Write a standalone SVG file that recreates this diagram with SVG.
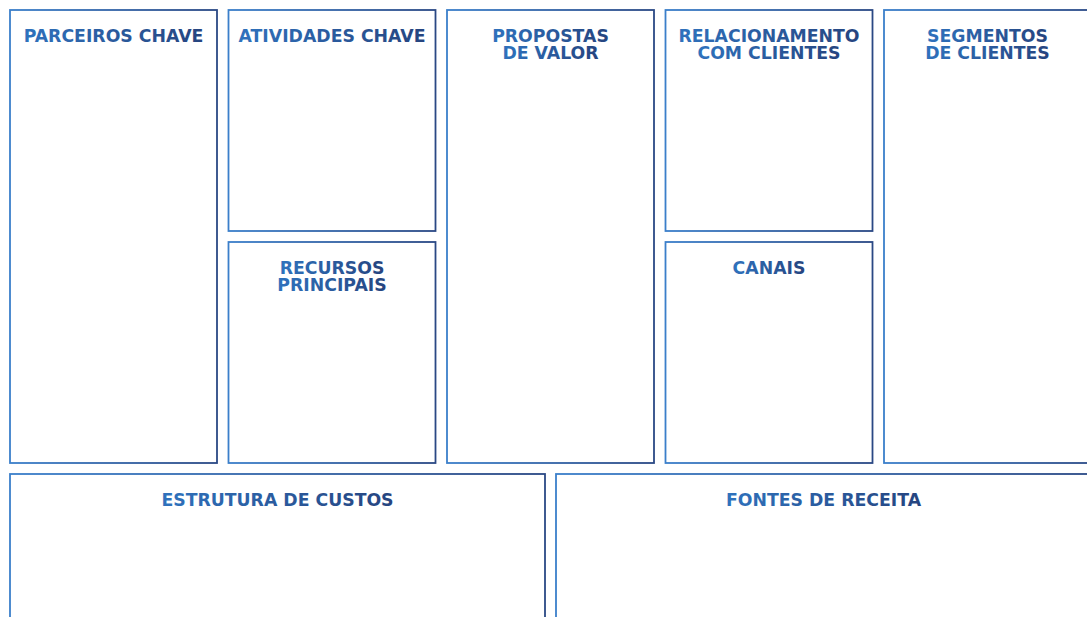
<svg xmlns="http://www.w3.org/2000/svg" width="1087" height="617" viewBox="0 0 1087 617">
<defs>
<linearGradient id="gs" x1="0" y1="0" x2="1" y2="0">
<stop offset="0" stop-color="#3b7fca"/>
<stop offset="1" stop-color="#2a4884"/>
</linearGradient>
<linearGradient id="gt" x1="0" y1="0" x2="1" y2="0">
<stop offset="0" stop-color="#2f72bd"/>
<stop offset="1" stop-color="#26447f"/>
</linearGradient>
</defs>
<style>
rect.b{fill:#fff;stroke:url(#gs);stroke-width:1.8}
text{font-family:"DejaVu Sans","Open Sans",sans-serif;font-weight:700;font-size:17.3px;fill:url(#gt);text-anchor:middle}
</style>
<rect width="1087" height="617" fill="#fff"/>
<g id="parceiros"><rect class="b" x="10" y="10" width="207" height="453"/><text x="113.5" y="41.5">PARCEIROS CHAVE</text></g>
<g id="atividades"><rect class="b" x="228.5" y="10" width="207" height="221"/><text x="332" y="41.5">ATIVIDADES CHAVE</text></g>
<g id="recursos"><rect class="b" x="228.5" y="242" width="207" height="221"/><text x="332" y="273.5">RECURSOS</text><text x="332" y="291">PRINCIPAIS</text></g>
<g id="propostas"><rect class="b" x="447" y="10" width="207" height="453"/><text x="550.5" y="41.5">PROPOSTAS</text><text x="550.5" y="59">DE VALOR</text></g>
<g id="relacionamento"><rect class="b" x="665.5" y="10" width="207" height="221"/><text x="769" y="41.5">RELACIONAMENTO</text><text x="769" y="59">COM CLIENTES</text></g>
<g id="canais"><rect class="b" x="665.5" y="242" width="207" height="221"/><text x="769" y="273.5">CANAIS</text></g>
<g id="segmentos"><rect class="b" x="884" y="10" width="215" height="453"/><text x="987.5" y="41.5">SEGMENTOS</text><text x="987.5" y="59">DE CLIENTES</text></g>
<g id="custos"><rect class="b" x="10" y="474" width="535" height="160"/><text x="277.5" y="505.5">ESTRUTURA DE CUSTOS</text></g>
<g id="receita"><rect class="b" x="556" y="474" width="545" height="160"/><text x="823.5" y="505.5">FONTES DE RECEITA</text></g>
<g id="connectors"/>
</svg>
